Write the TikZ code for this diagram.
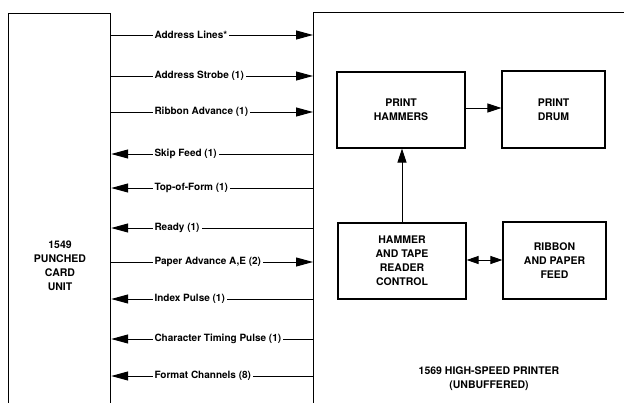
\documentclass[tikz,border=0pt]{standalone}
\usepackage{fontspec}
\setmainfont{TeX Gyre Heros}
\usetikzlibrary{arrows.meta}
\begin{document}
\begin{tikzpicture}[x=1pt,y=-1pt,
  box/.style={draw,line width=1.2pt,inner sep=0pt},
  bigbox/.style={draw,line width=1.2pt,inner sep=0pt},
  sig/.style={line width=1pt},
  tip/.style={-{Triangle[length=17pt,width=9pt]}},
  sigtext/.style={fill=white,inner sep=2pt,anchor=west,font=\bfseries\fontsize{10}{11}\selectfont},
  caps/.style={align=center,font=\bfseries\fontsize{10.5}{14}\selectfont},
  every node/.style={text=black}]
\useasboundingbox (0,0) rectangle (624,402);
\clip (0,0) rectangle (624,402);
\fill[white] (0,0) rectangle (624,402);
% big units (open at the bottom)
\node[bigbox,minimum width=102pt,minimum height=420pt,anchor=north west] (L) at (8,13) {};
\node[bigbox,minimum width=340pt,minimum height=420pt,anchor=north west] (R) at (313,12) {};
\node[caps] (Ltext) at (60,266) {1549\\PUNCHED\\CARD\\UNIT};
\node[caps] (Rtext) at (489,379) {1569 HIGH-SPEED PRINTER\\(UNBUFFERED)};
% inner blocks
\node[box,minimum width=128pt,minimum height=76pt,caps] (PH) at (401,110) {PRINT\\HAMMERS};
\node[box,minimum width=103pt,minimum height=77pt,caps] (PD) at (553.5,109.5) {PRINT\\DRUM};
\node[box,minimum width=128pt,minimum height=76pt,caps] (HC) at (402,261) {HAMMER\\AND TAPE\\READER\\CONTROL};
\node[box,minimum width=103pt,minimum height=77pt,caps] (RF) at (554.5,260.5) {RIBBON\\AND PAPER\\FEED};
\draw[sig,-{Triangle[length=14pt,width=9pt]}] (PH.east |- 0,108) -- (PD.west |- 0,108);
\draw[sig,-{Triangle[length=14pt,width=9pt]}] (HC.north -| 402,0) -- (PH.south -| 402,0);
\draw[sig,{Triangle[length=12pt,width=8pt]}-{Triangle[length=12pt,width=8pt]}] (HC.east |- 0,260) -- (RF.west |- 0,260);
% signals to the printer
\draw[sig,tip] (L.east |- 0,35) -- (R.west |- 0,35) node[sigtext] at (152,35) (s1) {Address Lines*};
\draw[sig,tip] (L.east |- 0,76) -- (R.west |- 0,76) node[sigtext] at (152,76) (s2) {Address Strobe (1)};
\draw[sig,tip] (L.east |- 0,112) -- (R.west |- 0,112) node[sigtext] at (152,112) (s3) {Ribbon Advance (1)};
\draw[sig,tip] (R.west |- 0,154) -- (L.east |- 0,154) node[sigtext] at (152,154) (s4) {Skip Feed (1)};
\draw[sig,tip] (R.west |- 0,188) -- (L.east |- 0,188) node[sigtext] at (152,188) (s5) {Top-of-Form (1)};
\draw[sig,tip] (R.west |- 0,228) -- (L.east |- 0,228) node[sigtext] at (152,228) (s6) {Ready (1)};
\draw[sig,tip] (L.east |- 0,262) -- (R.west |- 0,262) node[sigtext] at (152,262) (s7) {Paper Advance A,E (2)};
\draw[sig,tip] (R.west |- 0,299) -- (L.east |- 0,299) node[sigtext] at (152,299) (s8) {Index Pulse (1)};
\draw[sig,tip] (R.west |- 0,339) -- (L.east |- 0,339) node[sigtext] at (152,339) (s9) {Character Timing Pulse (1)};
\draw[sig,tip] (R.west |- 0,376) -- (L.east |- 0,376) node[sigtext] at (152,376) (s10) {Format Channels (8)};
\end{tikzpicture}
\end{document}
